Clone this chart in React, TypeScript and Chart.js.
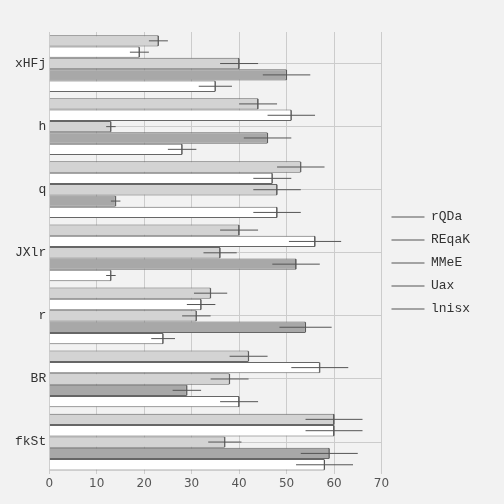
import { useRef, useEffect } from 'react'
import { Chart, registerables } from 'chart.js'

Chart.register(...registerables)

const categories = ['xHFj', 'h', 'q', 'JXlr', 'r', 'BR', 'fkSt']
const seriesNames = ['rQDa', 'REqaK', 'MMeE', 'Uax', 'lnisx']
const seriesValues = [
  [23, 44, 53, 40, 34, 42, 60],
  [19, 51, 47, 56, 32, 57, 60],
  [40, 13, 48, 36, 31, 38, 37],
  [50, 46, 14, 52, 54, 29, 59],
  [35, 28, 48, 13, 24, 40, 58],
]
const seriesErrors = [
  [2, 4, 5, 4, 3.5, 4, 6],
  [2, 5, 4, 5.5, 3, 6, 6],
  [4, 1, 5, 3.5, 3, 4, 3.5],
  [5, 5, 1, 5, 5.5, 3, 6],
  [3.5, 3, 5, 1, 2.5, 4, 6],
]
const fills = ['#d3d3d3', '#ffffff', '#d3d3d3', '#a8a8a8', '#ffffff']

const errorBars = {
  id: 'errorBars',
  afterDatasetsDraw(chart: Chart) {
    const ctx = chart.ctx
    const x = chart.scales.x
    ctx.save()
    ctx.strokeStyle = '#555'
    ctx.lineWidth = 1
    chart.data.datasets.forEach((_ds, i) => {
      const meta = chart.getDatasetMeta(i)
      meta.data.forEach((bar: any, j) => {
        const v = seriesValues[i][j]
        const e = seriesErrors[i][j]
        const y = bar.y
        ctx.beginPath()
        ctx.moveTo(x.getPixelForValue(v - e), y)
        ctx.lineTo(x.getPixelForValue(v + e), y)
        ctx.moveTo(x.getPixelForValue(v), y - 5)
        ctx.lineTo(x.getPixelForValue(v), y + 5)
        ctx.stroke()
      })
    })
    ctx.restore()
  },
}

export default function App() {
  const canvasRef = useRef<HTMLCanvasElement>(null)

  useEffect(() => {
    document.body.style.margin = '0'
    if (!canvasRef.current) return
    const chart = new Chart(canvasRef.current, {
      type: 'bar',
      data: {
        labels: categories,
        datasets: seriesNames.map((name, i) => ({
          label: name,
          data: seriesValues[i],
          backgroundColor: fills[i],
          borderColor: '#666',
          borderWidth: 1,
          categoryPercentage: 0.9,
          barPercentage: 1,
        })),
      },
      options: {
        indexAxis: 'y',
        animation: false,
        responsive: false,
        layout: { padding: { top: 32, right: 24, bottom: 10, left: 12 } },
        plugins: {
          legend: {
            position: 'right',
            labels: {
              color: '#333',
              font: { family: 'Liberation Mono', size: 13 },
              usePointStyle: true,
              pointStyleWidth: 33,
              padding: 10,
              generateLabels: (c) =>
                c.data.datasets.map((ds, i) => ({
                  text: ds.label as string,
                  pointStyle: 'line',
                  strokeStyle: '#555',
                  lineWidth: 1,
                  fillStyle: '#555',
                  datasetIndex: i,
                  fontColor: '#333',
                })),
            },
          },
          tooltip: { enabled: false },
        },
        scales: {
          x: {
            min: 0,
            max: 70,
            ticks: { stepSize: 10, color: '#555', font: { family: 'DejaVu Sans', size: 12 } },
            grid: { color: '#cccccc', drawTicks: false },
            border: { display: false },
          },
          y: {
            ticks: { color: '#333', font: { family: 'Liberation Mono', size: 13 } },
            grid: { color: '#cccccc', offset: false, drawTicks: false },
            border: { display: false },
          },
        },
      },
      plugins: [errorBars, {
        id: 'bg',
        beforeDraw(c: Chart) {
          c.ctx.save()
          c.ctx.fillStyle = '#f2f2f2'
          c.ctx.fillRect(0, 0, c.width, c.height)
          c.ctx.restore()
        },
      }],
    })
    return () => { chart.destroy() }
  }, [])

  return (
    <div>
      <canvas ref={canvasRef} width={504} height={504} style={{ display: 'block' }} />
    </div>
  )
}
